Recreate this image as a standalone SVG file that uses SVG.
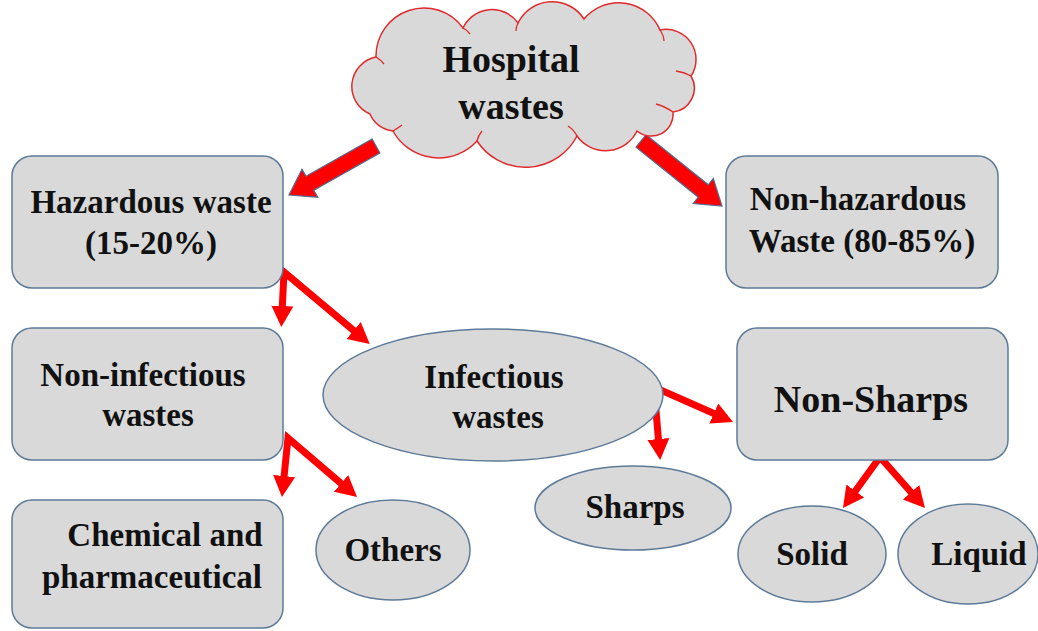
<svg xmlns="http://www.w3.org/2000/svg" width="1038" height="631" viewBox="0 0 1038 631">
<defs>
<style>
.box{fill:#d9d9d9;stroke:#5d7b99;stroke-width:1.5}
.t{font-family:"Liberation Serif","Times New Roman",serif;font-weight:bold;fill:#111;text-anchor:middle;font-size:33px}
.big{font-size:38px}
.conn{fill:none;stroke:#ff0000;stroke-width:7;stroke-linejoin:miter}
.blk{fill:#ff0000;stroke:#4f6d8f;stroke-width:1.2}
</style>
<marker id="ah" markerUnits="userSpaceOnUse" markerWidth="22" markerHeight="24" refX="7" refY="12" orient="auto-start-reverse">
<path d="M0,1 L21,12 L0,23 Z" fill="#ff0000"/>
</marker>
</defs>
<rect width="1038" height="631" fill="#ffffff"/>

<g id="connectors">
<polygon class="blk" points="372.1,139 306,176.2 302,169.2 289,195 317.8,197.2 313.8,190.2 379.9,153"/>
<polygon class="blk" points="646,134.8 708.3,184.8 713.3,178.5 722,206 693.3,203.5 698.3,197.2 636,147.2"/>
<path class="conn" d="M282,313 L284,272 L359,335" marker-start="url(#ah)" marker-end="url(#ah)"/>
<path class="conn" d="M283.4,483 L288,438 L346.4,488" marker-start="url(#ah)" marker-end="url(#ah)"/>
<path class="conn" d="M659,446 L654,387 L720.2,416.3" marker-start="url(#ah)" marker-end="url(#ah)"/>
<path class="conn" d="M851.2,496.7 L880,457 L915.7,497.5" marker-start="url(#ah)" marker-end="url(#ah)"/>
</g>

<g id="hospital">
<path d="M370,114 A30,30 0 0 1 376,57 A48,48 0 0 1 463,28 A32,32 0 0 1 518,23 A38,38 0 0 1 584,19 A45,45 0 0 1 660,30 A30,30 0 0 1 691,76 A24,24 0 0 1 673,112 A22,22 0 0 1 637,131 A35,35 0 0 1 577,136 A58,58 0 0 1 477,141 A52,52 0 0 1 393,131 A28,28 0 0 1 370,114 Z" fill="#d9d9d9" stroke="#e0292b" stroke-width="1.5"/>
<path d="M376,57 Q381,60 384,64 M463,28 Q467,30 470,34 M518,23 Q516,27 516,31 M660,30 Q664,36 664,41 M691,76 Q684,72 676,71 M673,112 Q664,106 656,104 M577,136 Q574,130 568,126 M477,141 Q478,136 482,131 M393,131 Q398,128 402,125" fill="none" stroke="#e0292b" stroke-width="1.3"/>
<text class="t big" x="511" y="72">Hospital</text>
<text class="t big" x="511" y="119">wastes</text>
</g>

<g id="hazardous">
<rect class="box" x="12" y="156" width="271" height="132" rx="20"/>
<text class="t" x="151" y="213">Hazardous waste</text>
<text class="t" x="151" y="254">(15-20%)</text>
</g>

<g id="nonhazardous">
<rect class="box" x="726" y="156" width="272" height="132" rx="20"/>
<text class="t" x="858" y="210">Non-hazardous</text>
<text class="t" x="862" y="252">Waste (80-85%)</text>
</g>

<g id="noninfectious">
<rect class="box" x="12" y="328" width="271" height="132" rx="20"/>
<text class="t" x="143" y="386">Non-infectious</text>
<text class="t" x="148" y="426">wastes</text>
</g>

<g id="infectious">
<ellipse class="box" cx="493" cy="395" rx="170" ry="66"/>
<text class="t" x="494" y="388">Infectious</text>
<text class="t" x="498" y="428">wastes</text>
</g>

<g id="nonsharps">
<rect class="box" x="737" y="328" width="271" height="132" rx="20"/>
<text class="t big" x="871" y="412">Non-Sharps</text>
</g>

<g id="chemical">
<rect class="box" x="12" y="500" width="271" height="128" rx="20"/>
<text class="t" x="165" y="546">Chemical and</text>
<text class="t" x="152" y="588">pharmaceutical</text>
</g>

<g id="others">
<ellipse class="box" cx="393" cy="550" rx="77" ry="50"/>
<text class="t" x="393" y="561">Others</text>
</g>

<g id="sharps">
<ellipse class="box" cx="633" cy="508" rx="98" ry="42"/>
<text class="t" x="635" y="518">Sharps</text>
</g>

<g id="solid">
<ellipse class="box" cx="812" cy="554" rx="74" ry="48"/>
<text class="t" x="812" y="565">Solid</text>
</g>

<g id="liquid">
<ellipse class="box" cx="968" cy="554" rx="70" ry="50"/>
<text class="t" x="979" y="565">Liquid</text>
</g>
</svg>
